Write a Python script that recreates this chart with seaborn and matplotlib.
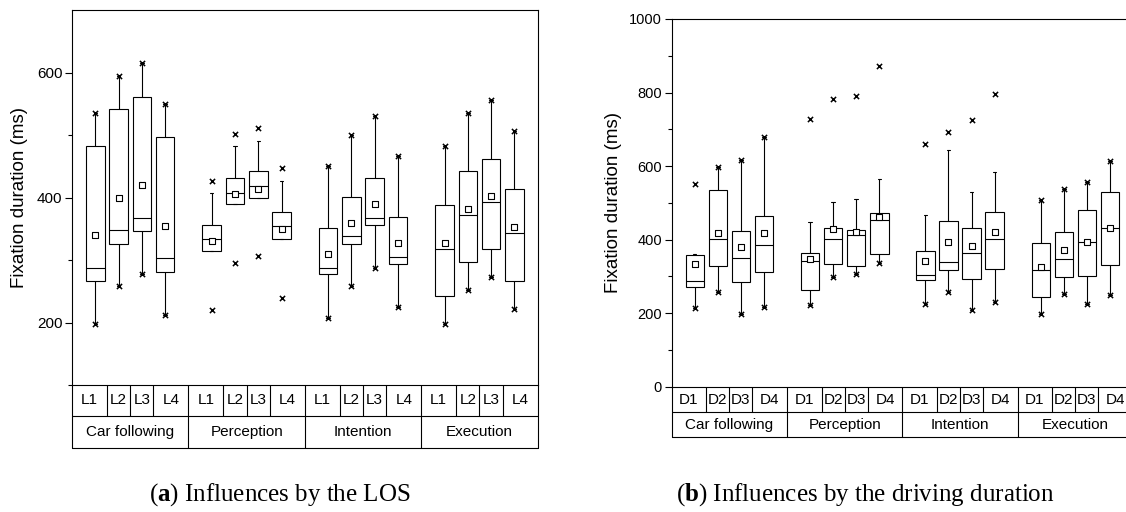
import numpy as np
import pandas as pd
import matplotlib
matplotlib.use("Agg")
import matplotlib.pyplot as plt
import seaborn as sns

# ---------------- data ----------------
groups = ["Car following", "Perception", "Intention", "Execution"]
levels_a = ["L1", "L2", "L3", "L4"]
levels_b = ["D1", "D2", "D3", "D4"]

# Panel (a): order = Car following L1..L4, Perception L1..L4, Intention L1..L4, Execution L1..L4
a_min  = [197, 258, 277, 212,  220, 295, 306, 240,  208, 258, 288, 225,  198, 252, 273, 222]
a_wlo  = [197, 258, 277, 212,  314, 389, 399, 334,  208, 258, 288, 225,  198, 252, 273, 222]
a_q1   = [266, 326, 347, 281,  314, 389, 399, 334,  277, 326, 356, 293,  242, 297, 317, 267]
a_med  = [288, 348, 368, 304,  334, 408, 419, 354,  288, 339, 368, 305,  318, 372, 393, 343]
a_q3   = [482, 541, 561, 497,  356, 431, 442, 377,  351, 401, 432, 369,  388, 442, 462, 413]
a_whi  = [535, 595, 616, 550,  407, 482, 491, 426,  450, 500, 530, 467,  482, 536, 556, 506]
a_max  = [535, 595, 616, 550,  427, 502, 512, 447,  450, 500, 530, 467,  482, 536, 556, 506]
a_mean = [340, 400, 420, 355,  330, 405, 414, 350,  310, 360, 390, 327,  328, 382, 403, 353]

# Panel (b): order = Car following D1..D4, Perception D1..D4, Intention D1..D4, Execution D1..D4
b_min  = [213, 258, 199, 218,  221, 298, 306, 336,  226, 258, 208, 230,  198, 252, 226, 249]
b_wlo  = [213, 258, 199, 218,  221, 298, 306, 336,  226, 258, 208, 230,  198, 252, 226, 249]
b_q1   = [271, 329, 284, 313,  262, 333, 328, 361,  289, 318, 292, 321,  243, 298, 301, 331]
b_med  = [288, 403, 350, 385,  343, 401, 412, 453,  305, 338, 364, 402,  317, 347, 393, 432]
b_q3   = [357, 536, 423, 465,  363, 432, 427, 472,  369, 450, 431, 475,  391, 422, 481, 529]
b_whi  = [360, 597, 617, 678,  447, 502, 511, 564,  467, 643, 530, 583,  507, 537, 557, 613]
b_max  = [552, 597, 617, 678,  727, 782, 791, 872,  661, 694, 725, 796,  507, 537, 557, 613]
b_mean = [335, 417, 379, 417,  348, 429, 420, 461,  342, 394, 382, 421,  326, 371, 393, 432]

# ---------------- style ----------------
sns.set_style("ticks")
plt.rcParams["font.family"] = ["Liberation Sans", "DejaVu Sans"]
plt.rcParams["mathtext.fontset"] = "custom"
plt.rcParams["mathtext.rm"] = "Liberation Serif"
plt.rcParams["mathtext.bf"] = "Liberation Serif:bold"
for k in ["text.color", "axes.labelcolor", "xtick.color", "ytick.color", "axes.edgecolor"]:
    plt.rcParams[k] = "black"

LW = 0.8
fig = plt.figure(figsize=(11.26, 5.12), dpi=100)
W, H = 1126, 512


def make_axes(left, top, right, bottom):
    return fig.add_axes([left / W, 1 - bottom / H, (right - left) / W, (bottom - top) / H])


def draw_panel(ax, levels, vmin, wlo, q1, med, q3, whi, vmax, mean,
               ylim, major, minor, rows, tick_fs, label_pad):
    pos = [g * 5 + i + 1 for g in range(len(groups)) for i in range(len(levels))]
    recs = []
    for p, a, b, c, d, e in zip(pos, wlo, q1, med, q3, whi):
        for v in (a, b, c, d, e):
            recs.append({"pos": p, "val": v})
    df = pd.DataFrame(recs)
    sns.boxplot(data=df, x="pos", y="val", native_scale=True, whis=(0, 100),
                width=0.8, color="white", saturation=1, linecolor="black",
                linewidth=LW, fliersize=0, capwidths=0.15, ax=ax)

    ext = pd.DataFrame({"pos": pos + pos, "val": list(vmin) + list(vmax)})
    sns.scatterplot(data=ext, x="pos", y="val", marker="x", color="black",
                    s=14, linewidth=1.1, ax=ax, zorder=5, legend=False)
    mdf = pd.DataFrame({"pos": pos, "val": mean})
    sns.scatterplot(data=mdf, x="pos", y="val", marker="s", color="white",
                    edgecolor="black", s=13, linewidth=0.8, ax=ax, zorder=6,
                    legend=False)

    ax.set_xlim(0, 20)
    ax.set_ylim(*ylim)
    ax.set_xticks([])
    ax.set_xlabel("")
    ax.set_yticks(major)
    ax.set_yticks(minor, minor=True)
    ax.tick_params(axis="y", which="major", length=5, width=LW, direction="out",
                   labelsize=tick_fs, pad=2, colors="black")
    ax.tick_params(axis="y", which="minor", length=3, width=LW, direction="out",
                   colors="black")
    ax.set_ylabel("Fixation duration (ms)", fontsize=13.5, labelpad=label_pad,
                  color="black")
    for s in ax.spines.values():
        s.set_visible(True)
        s.set_linewidth(LW)
        s.set_color("black")

    # category table below the axes
    tr = ax.get_xaxis_transform()
    y1, y2 = rows
    kw = dict(transform=tr, clip_on=False, color="black", lw=LW)
    ax.plot([0, 20], [y1, y1], **kw)
    ax.plot([0, 20], [y2, y2], **kw)
    for b in [0, 5, 10, 15, 20]:
        ax.plot([b, b], [0, y2], **kw)
    edges = [0, 1.5, 2.5, 3.5, 5]
    for g in range(len(groups)):
        for b in edges[1:-1]:
            ax.plot([g * 5 + b, g * 5 + b], [0, y1], **kw)
        for i, lev in enumerate(levels):
            cx = g * 5 + (edges[i] + edges[i + 1]) / 2
            ax.text(cx, y1 / 2, lev, transform=tr, ha="center",
                    va="center", fontsize=11, color="black")
        ax.text(g * 5 + 2.5, (y1 + y2) / 2, groups[g], transform=tr,
                ha="center", va="center", fontsize=11, color="black")


ax_a = make_axes(72, 10, 537.7, 385)
draw_panel(ax_a, levels_a, a_min, a_wlo, a_q1, a_med, a_q3, a_whi, a_max, a_mean,
           (100, 700), [200, 400, 600], [100, 300, 500],
           (-30.7 / 375, -62.7 / 375), 11, 6)

ax_b = make_axes(671.7, 19, 1133, 386.7)
draw_panel(ax_b, levels_b, b_min, b_wlo, b_q1, b_med, b_q3, b_whi, b_max, b_mean,
           (0, 1000), [0, 200, 400, 600, 800, 1000], [100, 300, 500, 700, 900],
           (-25.6 / 367.7, -50.6 / 367.7), 10.5, 5)

fig.text(280 / W, 1 - 495 / H, r"($\mathbf{a}$) Influences by the LOS",
         ha="center", va="center", fontsize=18, family="Liberation Serif",
         color="black")
fig.text(865 / W, 1 - 495 / H, r"($\mathbf{b}$) Influences by the driving duration",
         ha="center", va="center", fontsize=18, family="Liberation Serif",
         color="black")

fig.savefig("out.png", dpi=100)
